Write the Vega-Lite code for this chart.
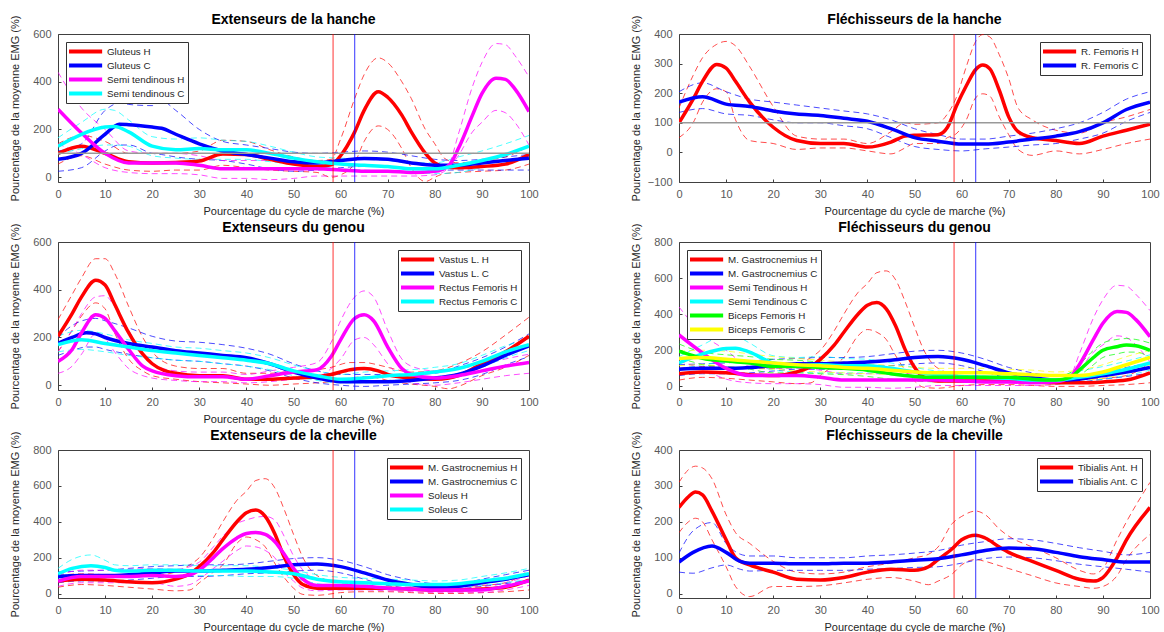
{
"$schema":"https://vega.github.io/schema/vega-lite/v6.json",
"background":"white",
"padding":{"left":8,"top":12,"right":5,"bottom":0},
"bounds":"flush",
"columns":2,
"spacing":{"row":60,"column":150},
"resolve":{"scale":{"x":"independent","y":"independent","color":"independent"}},
"datasets":{
"p1":[
{"s":"Gluteus H","x":0,"m":100,"u":140,"l":55},{"s":"Gluteus H","x":5,"m":130,"u":175,"l":90},{"s":"Gluteus H","x":10,"m":100,"u":150,"l":55},{"s":"Gluteus H","x":15,"m":65,"u":100,"l":30},{"s":"Gluteus H","x":20,"m":60,"u":100,"l":25},{"s":"Gluteus H","x":25,"m":62,"u":100,"l":30},{"s":"Gluteus H","x":30,"m":68,"u":110,"l":30},{"s":"Gluteus H","x":35,"m":97,"u":155,"l":50},{"s":"Gluteus H","x":40,"m":95,"u":150,"l":40},{"s":"Gluteus H","x":45,"m":75,"u":115,"l":30},{"s":"Gluteus H","x":50,"m":55,"u":85,"l":25},{"s":"Gluteus H","x":55,"m":45,"u":70,"l":20},{"s":"Gluteus H","x":58,"m":52,"u":75,"l":0},{"s":"Gluteus H","x":60,"m":90,"u":160,"l":10},{"s":"Gluteus H","x":63,"m":190,"u":330,"l":60},{"s":"Gluteus H","x":65,"m":280,"u":430,"l":150},{"s":"Gluteus H","x":68,"m":358,"u":500,"l":215},{"s":"Gluteus H","x":70,"m":335,"u":480,"l":200},{"s":"Gluteus H","x":73,"m":260,"u":400,"l":120},{"s":"Gluteus H","x":75,"m":190,"u":330,"l":40},{"s":"Gluteus H","x":78,"m":100,"u":200,"l":-18},{"s":"Gluteus H","x":80,"m":60,"u":140,"l":0},{"s":"Gluteus H","x":82,"m":45,"u":80,"l":15},{"s":"Gluteus H","x":85,"m":40,"u":60,"l":20},{"s":"Gluteus H","x":90,"m":45,"u":70,"l":25},{"s":"Gluteus H","x":95,"m":55,"u":85,"l":30},{"s":"Gluteus H","x":100,"m":95,"u":130,"l":55},
{"s":"Gluteus C","x":0,"m":75,"u":110,"l":25},{"s":"Gluteus C","x":5,"m":100,"u":140,"l":40},{"s":"Gluteus C","x":10,"m":180,"u":280,"l":110},{"s":"Gluteus C","x":13,"m":222,"u":310,"l":135},{"s":"Gluteus C","x":15,"m":220,"u":305,"l":135},{"s":"Gluteus C","x":20,"m":210,"u":300,"l":100},{"s":"Gluteus C","x":22,"m":205,"u":320,"l":95},{"s":"Gluteus C","x":25,"m":180,"u":280,"l":85},{"s":"Gluteus C","x":30,"m":140,"u":200,"l":75},{"s":"Gluteus C","x":35,"m":110,"u":150,"l":70},{"s":"Gluteus C","x":40,"m":95,"u":135,"l":55},{"s":"Gluteus C","x":45,"m":80,"u":120,"l":35},{"s":"Gluteus C","x":50,"m":65,"u":105,"l":25},{"s":"Gluteus C","x":55,"m":60,"u":100,"l":30},{"s":"Gluteus C","x":60,"m":70,"u":105,"l":40},{"s":"Gluteus C","x":65,"m":78,"u":110,"l":45},{"s":"Gluteus C","x":70,"m":75,"u":105,"l":45},{"s":"Gluteus C","x":75,"m":60,"u":90,"l":35},{"s":"Gluteus C","x":80,"m":50,"u":75,"l":30},{"s":"Gluteus C","x":85,"m":50,"u":70,"l":30},{"s":"Gluteus C","x":90,"m":60,"u":75,"l":30},{"s":"Gluteus C","x":95,"m":70,"u":85,"l":30},{"s":"Gluteus C","x":100,"m":80,"u":95,"l":30},
{"s":"Semi tendinous H","x":0,"m":285,"u":440,"l":140},{"s":"Semi tendinous H","x":5,"m":185,"u":290,"l":95},{"s":"Semi tendinous H","x":10,"m":100,"u":200,"l":40},{"s":"Semi tendinous H","x":15,"m":60,"u":110,"l":20},{"s":"Semi tendinous H","x":20,"m":60,"u":100,"l":15},{"s":"Semi tendinous H","x":25,"m":60,"u":100,"l":15},{"s":"Semi tendinous H","x":30,"m":50,"u":90,"l":10},{"s":"Semi tendinous H","x":35,"m":35,"u":70,"l":-5},{"s":"Semi tendinous H","x":40,"m":35,"u":70,"l":-5},{"s":"Semi tendinous H","x":45,"m":35,"u":70,"l":-10},{"s":"Semi tendinous H","x":50,"m":35,"u":70,"l":-5},{"s":"Semi tendinous H","x":55,"m":35,"u":65,"l":5},{"s":"Semi tendinous H","x":60,"m":30,"u":55,"l":5},{"s":"Semi tendinous H","x":65,"m":25,"u":50,"l":5},{"s":"Semi tendinous H","x":70,"m":25,"u":45,"l":5},{"s":"Semi tendinous H","x":75,"m":20,"u":40,"l":5},{"s":"Semi tendinous H","x":80,"m":25,"u":40,"l":10},{"s":"Semi tendinous H","x":83,"m":50,"u":60,"l":40},{"s":"Semi tendinous H","x":85,"m":120,"u":180,"l":90},{"s":"Semi tendinous H","x":88,"m":260,"u":380,"l":190},{"s":"Semi tendinous H","x":90,"m":350,"u":480,"l":230},{"s":"Semi tendinous H","x":93,"m":415,"u":560,"l":280},{"s":"Semi tendinous H","x":95,"m":410,"u":555,"l":270},{"s":"Semi tendinous H","x":97,"m":370,"u":510,"l":230},{"s":"Semi tendinous H","x":100,"m":275,"u":420,"l":135},
{"s":"Semi tendinous C","x":0,"m":130,"u":165,"l":95},{"s":"Semi tendinous C","x":5,"m":180,"u":230,"l":120},{"s":"Semi tendinous C","x":10,"m":210,"u":285,"l":135},{"s":"Semi tendinous C","x":12,"m":212,"u":280,"l":135},{"s":"Semi tendinous C","x":15,"m":190,"u":240,"l":130},{"s":"Semi tendinous C","x":20,"m":130,"u":170,"l":90},{"s":"Semi tendinous C","x":25,"m":115,"u":160,"l":80},{"s":"Semi tendinous C","x":30,"m":120,"u":165,"l":75},{"s":"Semi tendinous C","x":35,"m":115,"u":155,"l":75},{"s":"Semi tendinous C","x":40,"m":115,"u":150,"l":75},{"s":"Semi tendinous C","x":45,"m":100,"u":130,"l":65},{"s":"Semi tendinous C","x":50,"m":80,"u":105,"l":55},{"s":"Semi tendinous C","x":55,"m":65,"u":85,"l":45},{"s":"Semi tendinous C","x":60,"m":55,"u":80,"l":35},{"s":"Semi tendinous C","x":65,"m":50,"u":75,"l":30},{"s":"Semi tendinous C","x":70,"m":45,"u":70,"l":25},{"s":"Semi tendinous C","x":75,"m":35,"u":60,"l":20},{"s":"Semi tendinous C","x":80,"m":35,"u":60,"l":15},{"s":"Semi tendinous C","x":85,"m":50,"u":85,"l":20},{"s":"Semi tendinous C","x":90,"m":70,"u":110,"l":40},{"s":"Semi tendinous C","x":95,"m":95,"u":140,"l":60},{"s":"Semi tendinous C","x":100,"m":130,"u":175,"l":90}
],
"p2":[
{"s":"R. Femoris H","x":0,"m":100,"u":150,"l":50},{"s":"R. Femoris H","x":3,"m":180,"u":260,"l":100},{"s":"R. Femoris H","x":5,"m":240,"u":320,"l":170},{"s":"R. Femoris H","x":8,"m":297,"u":365,"l":215},{"s":"R. Femoris H","x":10,"m":285,"u":375,"l":205},{"s":"R. Femoris H","x":12,"m":240,"u":360,"l":110},{"s":"R. Femoris H","x":15,"m":170,"u":290,"l":40},{"s":"R. Femoris H","x":20,"m":85,"u":155,"l":30},{"s":"R. Femoris H","x":25,"m":40,"u":55,"l":10},{"s":"R. Femoris H","x":30,"m":30,"u":45,"l":15},{"s":"R. Femoris H","x":35,"m":30,"u":45,"l":15},{"s":"R. Femoris H","x":40,"m":18,"u":30,"l":5},{"s":"R. Femoris H","x":45,"m":35,"u":70,"l":-5},{"s":"R. Femoris H","x":48,"m":55,"u":100,"l":15},{"s":"R. Femoris H","x":50,"m":58,"u":95,"l":30},{"s":"R. Femoris H","x":55,"m":60,"u":100,"l":30},{"s":"R. Femoris H","x":57,"m":85,"u":130,"l":50},{"s":"R. Femoris H","x":59,"m":160,"u":190,"l":65},{"s":"R. Femoris H","x":61,"m":225,"u":290,"l":110},{"s":"R. Femoris H","x":63,"m":280,"u":375,"l":185},{"s":"R. Femoris H","x":64.5,"m":295,"u":398,"l":198},{"s":"R. Femoris H","x":66,"m":282,"u":390,"l":190},{"s":"R. Femoris H","x":68,"m":210,"u":330,"l":120},{"s":"R. Femoris H","x":70,"m":120,"u":250,"l":60},{"s":"R. Femoris H","x":72,"m":70,"u":150,"l":10},{"s":"R. Femoris H","x":75,"m":50,"u":110,"l":-10},{"s":"R. Femoris H","x":80,"m":40,"u":75,"l":5},{"s":"R. Femoris H","x":85,"m":30,"u":65,"l":-5},{"s":"R. Femoris H","x":90,"m":55,"u":100,"l":10},{"s":"R. Femoris H","x":95,"m":75,"u":120,"l":30},{"s":"R. Femoris H","x":100,"m":95,"u":145,"l":45},
{"s":"R. Femoris C","x":0,"m":170,"u":205,"l":135},{"s":"R. Femoris C","x":5,"m":188,"u":235,"l":148},{"s":"R. Femoris C","x":10,"m":163,"u":205,"l":130},{"s":"R. Femoris C","x":15,"m":155,"u":180,"l":125},{"s":"R. Femoris C","x":20,"m":140,"u":170,"l":110},{"s":"R. Femoris C","x":25,"m":130,"u":160,"l":100},{"s":"R. Femoris C","x":30,"m":125,"u":150,"l":100},{"s":"R. Femoris C","x":35,"m":115,"u":140,"l":90},{"s":"R. Femoris C","x":40,"m":105,"u":130,"l":80},{"s":"R. Femoris C","x":45,"m":80,"u":110,"l":50},{"s":"R. Femoris C","x":50,"m":50,"u":80,"l":20},{"s":"R. Femoris C","x":55,"m":38,"u":60,"l":10},{"s":"R. Femoris C","x":60,"m":28,"u":45,"l":5},{"s":"R. Femoris C","x":65,"m":28,"u":45,"l":12},{"s":"R. Femoris C","x":70,"m":35,"u":55,"l":18},{"s":"R. Femoris C","x":75,"m":45,"u":65,"l":25},{"s":"R. Femoris C","x":80,"m":55,"u":80,"l":30},{"s":"R. Femoris C","x":85,"m":70,"u":100,"l":45},{"s":"R. Femoris C","x":90,"m":100,"u":135,"l":65},{"s":"R. Femoris C","x":95,"m":145,"u":180,"l":105},{"s":"R. Femoris C","x":100,"m":170,"u":205,"l":135}
],
"p3":[
{"s":"Vastus L. H","x":0,"m":205,"u":275,"l":140},{"s":"Vastus L. H","x":3,"m":300,"u":380,"l":230},{"s":"Vastus L. H","x":5,"m":370,"u":450,"l":290},{"s":"Vastus L. H","x":8,"m":440,"u":530,"l":345},{"s":"Vastus L. H","x":10,"m":420,"u":530,"l":320},{"s":"Vastus L. H","x":12,"m":340,"u":470,"l":220},{"s":"Vastus L. H","x":15,"m":220,"u":330,"l":110},{"s":"Vastus L. H","x":18,"m":130,"u":200,"l":60},{"s":"Vastus L. H","x":20,"m":90,"u":140,"l":40},{"s":"Vastus L. H","x":25,"m":50,"u":80,"l":25},{"s":"Vastus L. H","x":30,"m":40,"u":70,"l":15},{"s":"Vastus L. H","x":35,"m":40,"u":70,"l":10},{"s":"Vastus L. H","x":40,"m":25,"u":50,"l":5},{"s":"Vastus L. H","x":45,"m":25,"u":50,"l":0},{"s":"Vastus L. H","x":50,"m":30,"u":60,"l":5},{"s":"Vastus L. H","x":55,"m":35,"u":65,"l":10},{"s":"Vastus L. H","x":58,"m":45,"u":75,"l":15},{"s":"Vastus L. H","x":62,"m":65,"u":95,"l":30},{"s":"Vastus L. H","x":65,"m":70,"u":95,"l":35},{"s":"Vastus L. H","x":68,"m":60,"u":85,"l":30},{"s":"Vastus L. H","x":70,"m":45,"u":75,"l":20},{"s":"Vastus L. H","x":75,"m":30,"u":55,"l":5},{"s":"Vastus L. H","x":80,"m":25,"u":60,"l":-5},{"s":"Vastus L. H","x":83,"m":30,"u":75,"l":-15},{"s":"Vastus L. H","x":85,"m":40,"u":90,"l":-5},{"s":"Vastus L. H","x":90,"m":90,"u":140,"l":40},{"s":"Vastus L. H","x":95,"m":140,"u":210,"l":75},{"s":"Vastus L. H","x":100,"m":205,"u":285,"l":125},
{"s":"Vastus L. C","x":0,"m":175,"u":200,"l":125},{"s":"Vastus L. C","x":3,"m":200,"u":250,"l":145},{"s":"Vastus L. C","x":6,"m":220,"u":275,"l":160},{"s":"Vastus L. C","x":8,"m":215,"u":280,"l":160},{"s":"Vastus L. C","x":10,"m":200,"u":270,"l":150},{"s":"Vastus L. C","x":15,"m":175,"u":240,"l":130},{"s":"Vastus L. C","x":20,"m":160,"u":205,"l":115},{"s":"Vastus L. C","x":25,"m":145,"u":185,"l":105},{"s":"Vastus L. C","x":30,"m":135,"u":180,"l":100},{"s":"Vastus L. C","x":35,"m":125,"u":170,"l":90},{"s":"Vastus L. C","x":40,"m":115,"u":155,"l":80},{"s":"Vastus L. C","x":45,"m":90,"u":130,"l":60},{"s":"Vastus L. C","x":50,"m":55,"u":90,"l":30},{"s":"Vastus L. C","x":55,"m":30,"u":60,"l":10},{"s":"Vastus L. C","x":60,"m":15,"u":45,"l":0},{"s":"Vastus L. C","x":65,"m":15,"u":45,"l":-5},{"s":"Vastus L. C","x":70,"m":15,"u":45,"l":0},{"s":"Vastus L. C","x":75,"m":20,"u":45,"l":5},{"s":"Vastus L. C","x":80,"m":30,"u":50,"l":10},{"s":"Vastus L. C","x":85,"m":45,"u":80,"l":20},{"s":"Vastus L. C","x":90,"m":80,"u":115,"l":45},{"s":"Vastus L. C","x":95,"m":125,"u":160,"l":85},{"s":"Vastus L. C","x":100,"m":165,"u":215,"l":120},
{"s":"Rectus Femoris H","x":0,"m":100,"u":140,"l":50},{"s":"Rectus Femoris H","x":3,"m":150,"u":230,"l":80},{"s":"Rectus Femoris H","x":5,"m":220,"u":300,"l":130},{"s":"Rectus Femoris H","x":8,"m":295,"u":370,"l":215},{"s":"Rectus Femoris H","x":10,"m":280,"u":375,"l":195},{"s":"Rectus Femoris H","x":12,"m":230,"u":330,"l":140},{"s":"Rectus Femoris H","x":15,"m":150,"u":230,"l":70},{"s":"Rectus Femoris H","x":18,"m":80,"u":130,"l":40},{"s":"Rectus Femoris H","x":20,"m":60,"u":90,"l":30},{"s":"Rectus Femoris H","x":25,"m":40,"u":60,"l":20},{"s":"Rectus Femoris H","x":30,"m":35,"u":55,"l":15},{"s":"Rectus Femoris H","x":35,"m":35,"u":55,"l":15},{"s":"Rectus Femoris H","x":40,"m":25,"u":45,"l":10},{"s":"Rectus Femoris H","x":45,"m":40,"u":60,"l":15},{"s":"Rectus Femoris H","x":50,"m":55,"u":75,"l":25},{"s":"Rectus Femoris H","x":55,"m":65,"u":95,"l":35},{"s":"Rectus Femoris H","x":58,"m":120,"u":180,"l":70},{"s":"Rectus Femoris H","x":60,"m":190,"u":270,"l":110},{"s":"Rectus Femoris H","x":63,"m":280,"u":370,"l":190},{"s":"Rectus Femoris H","x":65,"m":295,"u":395,"l":200},{"s":"Rectus Femoris H","x":67,"m":270,"u":370,"l":170},{"s":"Rectus Femoris H","x":70,"m":160,"u":230,"l":90},{"s":"Rectus Femoris H","x":73,"m":70,"u":110,"l":30},{"s":"Rectus Femoris H","x":75,"m":45,"u":80,"l":10},{"s":"Rectus Femoris H","x":80,"m":30,"u":60,"l":0},{"s":"Rectus Femoris H","x":85,"m":40,"u":70,"l":10},{"s":"Rectus Femoris H","x":90,"m":60,"u":85,"l":25},{"s":"Rectus Femoris H","x":95,"m":80,"u":110,"l":40},{"s":"Rectus Femoris H","x":100,"m":95,"u":130,"l":50},
{"s":"Rectus Femoris C","x":0,"m":170,"u":205,"l":140},{"s":"Rectus Femoris C","x":5,"m":190,"u":230,"l":150},{"s":"Rectus Femoris C","x":10,"m":175,"u":215,"l":140},{"s":"Rectus Femoris C","x":15,"m":160,"u":190,"l":125},{"s":"Rectus Femoris C","x":20,"m":145,"u":175,"l":115},{"s":"Rectus Femoris C","x":25,"m":135,"u":160,"l":105},{"s":"Rectus Femoris C","x":30,"m":125,"u":155,"l":100},{"s":"Rectus Femoris C","x":35,"m":115,"u":145,"l":90},{"s":"Rectus Femoris C","x":40,"m":105,"u":135,"l":80},{"s":"Rectus Femoris C","x":45,"m":90,"u":115,"l":65},{"s":"Rectus Femoris C","x":50,"m":60,"u":85,"l":40},{"s":"Rectus Femoris C","x":55,"m":40,"u":60,"l":20},{"s":"Rectus Femoris C","x":60,"m":25,"u":45,"l":10},{"s":"Rectus Femoris C","x":65,"m":30,"u":55,"l":10},{"s":"Rectus Femoris C","x":70,"m":40,"u":60,"l":20},{"s":"Rectus Femoris C","x":75,"m":45,"u":65,"l":25},{"s":"Rectus Femoris C","x":80,"m":55,"u":75,"l":35},{"s":"Rectus Femoris C","x":85,"m":70,"u":90,"l":50},{"s":"Rectus Femoris C","x":90,"m":100,"u":125,"l":75},{"s":"Rectus Femoris C","x":95,"m":140,"u":165,"l":115},{"s":"Rectus Femoris C","x":100,"m":170,"u":195,"l":145}
],
"p4":[
{"s":"M. Gastrocnemius H","x":0,"m":70,"u":100,"l":35},{"s":"M. Gastrocnemius H","x":5,"m":80,"u":110,"l":50},{"s":"M. Gastrocnemius H","x":10,"m":75,"u":105,"l":45},{"s":"M. Gastrocnemius H","x":15,"m":65,"u":100,"l":35},{"s":"M. Gastrocnemius H","x":20,"m":60,"u":100,"l":25},{"s":"M. Gastrocnemius H","x":25,"m":80,"u":120,"l":15},{"s":"M. Gastrocnemius H","x":28,"m":110,"u":160,"l":20},{"s":"M. Gastrocnemius H","x":30,"m":150,"u":200,"l":60},{"s":"M. Gastrocnemius H","x":33,"m":230,"u":310,"l":120},{"s":"M. Gastrocnemius H","x":35,"m":300,"u":400,"l":160},{"s":"M. Gastrocnemius H","x":38,"m":400,"u":520,"l":280},{"s":"M. Gastrocnemius H","x":40,"m":450,"u":570,"l":315},{"s":"M. Gastrocnemius H","x":42,"m":465,"u":630,"l":300},{"s":"M. Gastrocnemius H","x":44,"m":430,"u":640,"l":260},{"s":"M. Gastrocnemius H","x":46,"m":335,"u":590,"l":170},{"s":"M. Gastrocnemius H","x":48,"m":205,"u":470,"l":90},{"s":"M. Gastrocnemius H","x":50,"m":106,"u":330,"l":30},{"s":"M. Gastrocnemius H","x":52,"m":50,"u":200,"l":-5},{"s":"M. Gastrocnemius H","x":55,"m":30,"u":100,"l":-10},{"s":"M. Gastrocnemius H","x":60,"m":30,"u":60,"l":5},{"s":"M. Gastrocnemius H","x":65,"m":30,"u":55,"l":10},{"s":"M. Gastrocnemius H","x":70,"m":30,"u":50,"l":10},{"s":"M. Gastrocnemius H","x":75,"m":25,"u":45,"l":5},{"s":"M. Gastrocnemius H","x":80,"m":20,"u":40,"l":0},{"s":"M. Gastrocnemius H","x":85,"m":20,"u":40,"l":0},{"s":"M. Gastrocnemius H","x":90,"m":25,"u":45,"l":5},{"s":"M. Gastrocnemius H","x":95,"m":35,"u":60,"l":10},{"s":"M. Gastrocnemius H","x":100,"m":75,"u":130,"l":20},
{"s":"M. Gastrocnemius C","x":0,"m":95,"u":120,"l":60},{"s":"M. Gastrocnemius C","x":5,"m":100,"u":125,"l":70},{"s":"M. Gastrocnemius C","x":10,"m":100,"u":130,"l":70},{"s":"M. Gastrocnemius C","x":15,"m":105,"u":140,"l":75},{"s":"M. Gastrocnemius C","x":20,"m":115,"u":150,"l":85},{"s":"M. Gastrocnemius C","x":25,"m":125,"u":155,"l":95},{"s":"M. Gastrocnemius C","x":30,"m":125,"u":160,"l":95},{"s":"M. Gastrocnemius C","x":35,"m":130,"u":160,"l":100},{"s":"M. Gastrocnemius C","x":40,"m":135,"u":165,"l":110},{"s":"M. Gastrocnemius C","x":45,"m":145,"u":180,"l":115},{"s":"M. Gastrocnemius C","x":50,"m":160,"u":195,"l":125},{"s":"M. Gastrocnemius C","x":55,"m":165,"u":200,"l":130},{"s":"M. Gastrocnemius C","x":60,"m":150,"u":185,"l":115},{"s":"M. Gastrocnemius C","x":65,"m":115,"u":150,"l":80},{"s":"M. Gastrocnemius C","x":70,"m":75,"u":105,"l":45},{"s":"M. Gastrocnemius C","x":75,"m":50,"u":75,"l":30},{"s":"M. Gastrocnemius C","x":80,"m":35,"u":55,"l":20},{"s":"M. Gastrocnemius C","x":85,"m":40,"u":55,"l":25},{"s":"M. Gastrocnemius C","x":90,"m":60,"u":80,"l":40},{"s":"M. Gastrocnemius C","x":95,"m":80,"u":105,"l":55},{"s":"M. Gastrocnemius C","x":100,"m":105,"u":130,"l":75},
{"s":"Semi Tendinous H","x":0,"m":285,"u":440,"l":140},{"s":"Semi Tendinous H","x":5,"m":185,"u":290,"l":95},{"s":"Semi Tendinous H","x":10,"m":100,"u":200,"l":40},{"s":"Semi Tendinous H","x":15,"m":60,"u":110,"l":20},{"s":"Semi Tendinous H","x":20,"m":60,"u":100,"l":15},{"s":"Semi Tendinous H","x":25,"m":60,"u":100,"l":15},{"s":"Semi Tendinous H","x":30,"m":50,"u":90,"l":10},{"s":"Semi Tendinous H","x":35,"m":35,"u":70,"l":-5},{"s":"Semi Tendinous H","x":40,"m":35,"u":70,"l":-5},{"s":"Semi Tendinous H","x":45,"m":35,"u":70,"l":-10},{"s":"Semi Tendinous H","x":50,"m":35,"u":70,"l":-5},{"s":"Semi Tendinous H","x":55,"m":35,"u":65,"l":5},{"s":"Semi Tendinous H","x":60,"m":30,"u":55,"l":5},{"s":"Semi Tendinous H","x":65,"m":25,"u":50,"l":5},{"s":"Semi Tendinous H","x":70,"m":25,"u":45,"l":5},{"s":"Semi Tendinous H","x":75,"m":20,"u":40,"l":5},{"s":"Semi Tendinous H","x":80,"m":25,"u":40,"l":10},{"s":"Semi Tendinous H","x":83,"m":50,"u":60,"l":40},{"s":"Semi Tendinous H","x":85,"m":120,"u":180,"l":90},{"s":"Semi Tendinous H","x":88,"m":260,"u":380,"l":190},{"s":"Semi Tendinous H","x":90,"m":350,"u":480,"l":230},{"s":"Semi Tendinous H","x":93,"m":415,"u":560,"l":280},{"s":"Semi Tendinous H","x":95,"m":410,"u":555,"l":270},{"s":"Semi Tendinous H","x":97,"m":370,"u":510,"l":230},{"s":"Semi Tendinous H","x":100,"m":275,"u":420,"l":135},
{"s":"Semi Tendinous C","x":0,"m":130,"u":165,"l":95},{"s":"Semi Tendinous C","x":5,"m":180,"u":230,"l":120},{"s":"Semi Tendinous C","x":10,"m":210,"u":285,"l":135},{"s":"Semi Tendinous C","x":12,"m":212,"u":280,"l":135},{"s":"Semi Tendinous C","x":15,"m":190,"u":240,"l":130},{"s":"Semi Tendinous C","x":20,"m":130,"u":170,"l":90},{"s":"Semi Tendinous C","x":25,"m":115,"u":160,"l":80},{"s":"Semi Tendinous C","x":30,"m":120,"u":165,"l":75},{"s":"Semi Tendinous C","x":35,"m":115,"u":155,"l":75},{"s":"Semi Tendinous C","x":40,"m":115,"u":150,"l":75},{"s":"Semi Tendinous C","x":45,"m":100,"u":130,"l":65},{"s":"Semi Tendinous C","x":50,"m":80,"u":105,"l":55},{"s":"Semi Tendinous C","x":55,"m":65,"u":85,"l":45},{"s":"Semi Tendinous C","x":60,"m":55,"u":80,"l":35},{"s":"Semi Tendinous C","x":65,"m":50,"u":75,"l":30},{"s":"Semi Tendinous C","x":70,"m":45,"u":70,"l":25},{"s":"Semi Tendinous C","x":75,"m":35,"u":60,"l":20},{"s":"Semi Tendinous C","x":80,"m":35,"u":60,"l":15},{"s":"Semi Tendinous C","x":85,"m":50,"u":85,"l":20},{"s":"Semi Tendinous C","x":90,"m":70,"u":110,"l":40},{"s":"Semi Tendinous C","x":95,"m":95,"u":140,"l":60},{"s":"Semi Tendinous C","x":100,"m":130,"u":175,"l":90},
{"s":"Biceps Femoris H","x":0,"m":195,"u":235,"l":155},{"s":"Biceps Femoris H","x":3,"m":170,"u":205,"l":135},{"s":"Biceps Femoris H","x":5,"m":155,"u":190,"l":120},{"s":"Biceps Femoris H","x":10,"m":140,"u":175,"l":110},{"s":"Biceps Femoris H","x":15,"m":130,"u":165,"l":95},{"s":"Biceps Femoris H","x":20,"m":110,"u":150,"l":75},{"s":"Biceps Femoris H","x":25,"m":110,"u":145,"l":75},{"s":"Biceps Femoris H","x":30,"m":105,"u":135,"l":70},{"s":"Biceps Femoris H","x":35,"m":100,"u":130,"l":65},{"s":"Biceps Femoris H","x":40,"m":90,"u":120,"l":55},{"s":"Biceps Femoris H","x":45,"m":70,"u":100,"l":40},{"s":"Biceps Femoris H","x":50,"m":55,"u":80,"l":30},{"s":"Biceps Femoris H","x":55,"m":50,"u":75,"l":25},{"s":"Biceps Femoris H","x":60,"m":50,"u":75,"l":25},{"s":"Biceps Femoris H","x":65,"m":50,"u":75,"l":25},{"s":"Biceps Femoris H","x":70,"m":50,"u":70,"l":25},{"s":"Biceps Femoris H","x":75,"m":40,"u":60,"l":20},{"s":"Biceps Femoris H","x":80,"m":35,"u":55,"l":15},{"s":"Biceps Femoris H","x":83,"m":50,"u":75,"l":30},{"s":"Biceps Femoris H","x":85,"m":90,"u":120,"l":60},{"s":"Biceps Femoris H","x":88,"m":160,"u":200,"l":120},{"s":"Biceps Femoris H","x":90,"m":200,"u":240,"l":160},{"s":"Biceps Femoris H","x":93,"m":220,"u":260,"l":180},{"s":"Biceps Femoris H","x":95,"m":230,"u":265,"l":190},{"s":"Biceps Femoris H","x":97,"m":225,"u":260,"l":190},{"s":"Biceps Femoris H","x":100,"m":200,"u":240,"l":160},
{"s":"Biceps Femoris C","x":0,"m":155,"u":195,"l":115},{"s":"Biceps Femoris C","x":5,"m":160,"u":200,"l":120},{"s":"Biceps Femoris C","x":10,"m":150,"u":195,"l":110},{"s":"Biceps Femoris C","x":15,"m":140,"u":180,"l":100},{"s":"Biceps Femoris C","x":20,"m":130,"u":165,"l":95},{"s":"Biceps Femoris C","x":25,"m":120,"u":155,"l":85},{"s":"Biceps Femoris C","x":30,"m":115,"u":145,"l":80},{"s":"Biceps Femoris C","x":35,"m":105,"u":135,"l":75},{"s":"Biceps Femoris C","x":40,"m":100,"u":125,"l":70},{"s":"Biceps Femoris C","x":45,"m":90,"u":115,"l":65},{"s":"Biceps Femoris C","x":50,"m":80,"u":105,"l":55},{"s":"Biceps Femoris C","x":55,"m":75,"u":100,"l":50},{"s":"Biceps Femoris C","x":60,"m":75,"u":100,"l":50},{"s":"Biceps Femoris C","x":65,"m":75,"u":100,"l":50},{"s":"Biceps Femoris C","x":70,"m":70,"u":95,"l":45},{"s":"Biceps Femoris C","x":75,"m":65,"u":90,"l":40},{"s":"Biceps Femoris C","x":80,"m":60,"u":80,"l":40},{"s":"Biceps Femoris C","x":85,"m":60,"u":90,"l":35},{"s":"Biceps Femoris C","x":90,"m":80,"u":120,"l":45},{"s":"Biceps Femoris C","x":95,"m":120,"u":165,"l":75},{"s":"Biceps Femoris C","x":100,"m":160,"u":200,"l":120}
],
"p5":[
{"s":"M. Gastrocnemius H","x":0,"m":70,"u":100,"l":35},{"s":"M. Gastrocnemius H","x":5,"m":80,"u":110,"l":50},{"s":"M. Gastrocnemius H","x":10,"m":75,"u":105,"l":45},{"s":"M. Gastrocnemius H","x":15,"m":65,"u":100,"l":35},{"s":"M. Gastrocnemius H","x":20,"m":60,"u":100,"l":25},{"s":"M. Gastrocnemius H","x":25,"m":80,"u":120,"l":15},{"s":"M. Gastrocnemius H","x":28,"m":110,"u":160,"l":20},{"s":"M. Gastrocnemius H","x":30,"m":150,"u":200,"l":60},{"s":"M. Gastrocnemius H","x":33,"m":230,"u":310,"l":120},{"s":"M. Gastrocnemius H","x":35,"m":300,"u":400,"l":160},{"s":"M. Gastrocnemius H","x":38,"m":400,"u":520,"l":280},{"s":"M. Gastrocnemius H","x":40,"m":450,"u":570,"l":315},{"s":"M. Gastrocnemius H","x":42,"m":465,"u":630,"l":300},{"s":"M. Gastrocnemius H","x":44,"m":430,"u":640,"l":260},{"s":"M. Gastrocnemius H","x":46,"m":335,"u":590,"l":170},{"s":"M. Gastrocnemius H","x":48,"m":205,"u":470,"l":90},{"s":"M. Gastrocnemius H","x":50,"m":106,"u":330,"l":30},{"s":"M. Gastrocnemius H","x":52,"m":50,"u":200,"l":-5},{"s":"M. Gastrocnemius H","x":55,"m":30,"u":100,"l":-10},{"s":"M. Gastrocnemius H","x":60,"m":30,"u":60,"l":5},{"s":"M. Gastrocnemius H","x":65,"m":30,"u":55,"l":10},{"s":"M. Gastrocnemius H","x":70,"m":30,"u":50,"l":10},{"s":"M. Gastrocnemius H","x":75,"m":25,"u":45,"l":5},{"s":"M. Gastrocnemius H","x":80,"m":20,"u":40,"l":0},{"s":"M. Gastrocnemius H","x":85,"m":20,"u":40,"l":0},{"s":"M. Gastrocnemius H","x":90,"m":25,"u":45,"l":5},{"s":"M. Gastrocnemius H","x":95,"m":35,"u":60,"l":10},{"s":"M. Gastrocnemius H","x":100,"m":75,"u":130,"l":20},
{"s":"M. Gastrocnemius C","x":0,"m":95,"u":120,"l":60},{"s":"M. Gastrocnemius C","x":5,"m":100,"u":125,"l":70},{"s":"M. Gastrocnemius C","x":10,"m":100,"u":130,"l":70},{"s":"M. Gastrocnemius C","x":15,"m":105,"u":140,"l":75},{"s":"M. Gastrocnemius C","x":20,"m":115,"u":150,"l":85},{"s":"M. Gastrocnemius C","x":25,"m":125,"u":155,"l":95},{"s":"M. Gastrocnemius C","x":30,"m":125,"u":160,"l":95},{"s":"M. Gastrocnemius C","x":35,"m":130,"u":160,"l":100},{"s":"M. Gastrocnemius C","x":40,"m":135,"u":165,"l":110},{"s":"M. Gastrocnemius C","x":45,"m":145,"u":180,"l":115},{"s":"M. Gastrocnemius C","x":50,"m":160,"u":195,"l":125},{"s":"M. Gastrocnemius C","x":55,"m":165,"u":200,"l":130},{"s":"M. Gastrocnemius C","x":60,"m":150,"u":185,"l":115},{"s":"M. Gastrocnemius C","x":65,"m":115,"u":150,"l":80},{"s":"M. Gastrocnemius C","x":70,"m":75,"u":105,"l":45},{"s":"M. Gastrocnemius C","x":75,"m":50,"u":75,"l":30},{"s":"M. Gastrocnemius C","x":80,"m":35,"u":55,"l":20},{"s":"M. Gastrocnemius C","x":85,"m":40,"u":55,"l":25},{"s":"M. Gastrocnemius C","x":90,"m":60,"u":80,"l":40},{"s":"M. Gastrocnemius C","x":95,"m":80,"u":105,"l":55},{"s":"M. Gastrocnemius C","x":100,"m":105,"u":130,"l":75},
{"s":"Soleus H","x":0,"m":70,"u":100,"l":40},{"s":"Soleus H","x":5,"m":95,"u":130,"l":60},{"s":"Soleus H","x":10,"m":95,"u":130,"l":60},{"s":"Soleus H","x":15,"m":95,"u":135,"l":60},{"s":"Soleus H","x":20,"m":100,"u":140,"l":60},{"s":"Soleus H","x":25,"m":95,"u":135,"l":40},{"s":"Soleus H","x":28,"m":105,"u":150,"l":50},{"s":"Soleus H","x":30,"m":130,"u":175,"l":80},{"s":"Soleus H","x":33,"m":200,"u":260,"l":140},{"s":"Soleus H","x":35,"m":250,"u":320,"l":180},{"s":"Soleus H","x":38,"m":310,"u":390,"l":240},{"s":"Soleus H","x":40,"m":335,"u":410,"l":265},{"s":"Soleus H","x":42,"m":340,"u":425,"l":260},{"s":"Soleus H","x":44,"m":330,"u":430,"l":240},{"s":"Soleus H","x":46,"m":290,"u":410,"l":200},{"s":"Soleus H","x":48,"m":220,"u":320,"l":120},{"s":"Soleus H","x":50,"m":140,"u":210,"l":70},{"s":"Soleus H","x":52,"m":80,"u":130,"l":30},{"s":"Soleus H","x":55,"m":45,"u":80,"l":15},{"s":"Soleus H","x":60,"m":45,"u":70,"l":20},{"s":"Soleus H","x":65,"m":40,"u":60,"l":20},{"s":"Soleus H","x":70,"m":30,"u":50,"l":15},{"s":"Soleus H","x":75,"m":25,"u":40,"l":10},{"s":"Soleus H","x":80,"m":20,"u":35,"l":5},{"s":"Soleus H","x":85,"m":20,"u":35,"l":5},{"s":"Soleus H","x":90,"m":20,"u":40,"l":5},{"s":"Soleus H","x":95,"m":40,"u":60,"l":20},{"s":"Soleus H","x":100,"m":70,"u":100,"l":45},
{"s":"Soleus C","x":0,"m":110,"u":140,"l":80},{"s":"Soleus C","x":3,"m":140,"u":190,"l":95},{"s":"Soleus C","x":7,"m":155,"u":215,"l":100},{"s":"Soleus C","x":10,"m":145,"u":185,"l":100},{"s":"Soleus C","x":12,"m":130,"u":160,"l":95},{"s":"Soleus C","x":15,"m":125,"u":155,"l":95},{"s":"Soleus C","x":20,"m":130,"u":160,"l":100},{"s":"Soleus C","x":25,"m":130,"u":160,"l":100},{"s":"Soleus C","x":30,"m":125,"u":155,"l":100},{"s":"Soleus C","x":35,"m":125,"u":155,"l":100},{"s":"Soleus C","x":40,"m":125,"u":155,"l":95},{"s":"Soleus C","x":45,"m":120,"u":145,"l":95},{"s":"Soleus C","x":50,"m":110,"u":130,"l":85},{"s":"Soleus C","x":55,"m":80,"u":105,"l":55},{"s":"Soleus C","x":60,"m":65,"u":90,"l":40},{"s":"Soleus C","x":65,"m":60,"u":85,"l":35},{"s":"Soleus C","x":70,"m":55,"u":80,"l":30},{"s":"Soleus C","x":75,"m":50,"u":75,"l":30},{"s":"Soleus C","x":80,"m":50,"u":70,"l":30},{"s":"Soleus C","x":85,"m":55,"u":75,"l":35},{"s":"Soleus C","x":90,"m":70,"u":95,"l":45},{"s":"Soleus C","x":95,"m":85,"u":115,"l":60},{"s":"Soleus C","x":100,"m":110,"u":140,"l":80}
],
"p6":[
{"s":"Tibialis Ant. H","x":0,"m":240,"u":310,"l":170},{"s":"Tibialis Ant. H","x":2,"m":270,"u":345,"l":200},{"s":"Tibialis Ant. H","x":3.5,"m":283,"u":355,"l":210},{"s":"Tibialis Ant. H","x":5,"m":275,"u":350,"l":200},{"s":"Tibialis Ant. H","x":7,"m":230,"u":320,"l":150},{"s":"Tibialis Ant. H","x":10,"m":150,"u":220,"l":75},{"s":"Tibialis Ant. H","x":12,"m":100,"u":170,"l":20},{"s":"Tibialis Ant. H","x":15,"m":80,"u":140,"l":-8},{"s":"Tibialis Ant. H","x":20,"m":60,"u":90,"l":20},{"s":"Tibialis Ant. H","x":25,"m":40,"u":60,"l":20},{"s":"Tibialis Ant. H","x":30,"m":38,"u":55,"l":22},{"s":"Tibialis Ant. H","x":35,"m":45,"u":60,"l":30},{"s":"Tibialis Ant. H","x":40,"m":60,"u":75,"l":40},{"s":"Tibialis Ant. H","x":45,"m":68,"u":85,"l":45},{"s":"Tibialis Ant. H","x":50,"m":65,"u":100,"l":35},{"s":"Tibialis Ant. H","x":53,"m":75,"u":110,"l":25},{"s":"Tibialis Ant. H","x":55,"m":95,"u":130,"l":35},{"s":"Tibialis Ant. H","x":58,"m":125,"u":195,"l":55},{"s":"Tibialis Ant. H","x":60,"m":150,"u":215,"l":80},{"s":"Tibialis Ant. H","x":63,"m":163,"u":230,"l":95},{"s":"Tibialis Ant. H","x":65,"m":155,"u":220,"l":90},{"s":"Tibialis Ant. H","x":68,"m":130,"u":180,"l":78},{"s":"Tibialis Ant. H","x":70,"m":115,"u":160,"l":70},{"s":"Tibialis Ant. H","x":75,"m":90,"u":130,"l":50},{"s":"Tibialis Ant. H","x":80,"m":65,"u":100,"l":30},{"s":"Tibialis Ant. H","x":85,"m":40,"u":65,"l":20},{"s":"Tibialis Ant. H","x":88,"m":35,"u":55,"l":15},{"s":"Tibialis Ant. H","x":90,"m":45,"u":70,"l":20},{"s":"Tibialis Ant. H","x":93,"m":100,"u":150,"l":50},{"s":"Tibialis Ant. H","x":95,"m":150,"u":200,"l":95},{"s":"Tibialis Ant. H","x":100,"m":240,"u":310,"l":165},
{"s":"Tibialis Ant. C","x":0,"m":88,"u":113,"l":60},{"s":"Tibialis Ant. C","x":3,"m":115,"u":175,"l":57},{"s":"Tibialis Ant. C","x":7,"m":133,"u":198,"l":72},{"s":"Tibialis Ant. C","x":10,"m":115,"u":140,"l":80},{"s":"Tibialis Ant. C","x":13,"m":90,"u":110,"l":68},{"s":"Tibialis Ant. C","x":15,"m":85,"u":105,"l":63},{"s":"Tibialis Ant. C","x":20,"m":85,"u":105,"l":65},{"s":"Tibialis Ant. C","x":25,"m":83,"u":100,"l":65},{"s":"Tibialis Ant. C","x":30,"m":83,"u":100,"l":65},{"s":"Tibialis Ant. C","x":35,"m":85,"u":100,"l":65},{"s":"Tibialis Ant. C","x":40,"m":85,"u":105,"l":68},{"s":"Tibialis Ant. C","x":45,"m":88,"u":108,"l":70},{"s":"Tibialis Ant. C","x":50,"m":93,"u":113,"l":73},{"s":"Tibialis Ant. C","x":55,"m":97,"u":120,"l":75},{"s":"Tibialis Ant. C","x":60,"m":108,"u":135,"l":85},{"s":"Tibialis Ant. C","x":65,"m":120,"u":145,"l":98},{"s":"Tibialis Ant. C","x":70,"m":127,"u":153,"l":102},{"s":"Tibialis Ant. C","x":75,"m":125,"u":150,"l":100},{"s":"Tibialis Ant. C","x":80,"m":115,"u":140,"l":92},{"s":"Tibialis Ant. C","x":85,"m":103,"u":128,"l":82},{"s":"Tibialis Ant. C","x":90,"m":95,"u":118,"l":75},{"s":"Tibialis Ant. C","x":95,"m":88,"u":108,"l":68},{"s":"Tibialis Ant. C","x":100,"m":88,"u":115,"l":60}
]
},
"concat":[
{"title":"Extenseurs de la hanche","width":471,"height":148,"data":{"name":"p1"},
 "encoding":{"x":{"field":"x","type":"quantitative","scale":{"domain":[0,100],"nice":false},"axis":{"values":[0,10,20,30,40,50,60,70,80,90,100],"tickCount":20,"title":"Pourcentage du cycle de marche (%)"}}},
 "layer":[
  {"transform":[{"fold":["u","l"],"as":["k","v"]}],"mark":{"type":"line","interpolate":"monotone","strokeWidth":1,"strokeDash":[6,4],"opacity":0.7,"clip":true},
   "encoding":{"y":{"field":"v","type":"quantitative","scale":{"domain":[-20,600],"nice":false,"zero":false},"axis":{"values":[0,200,400,600],"tickCount":20,"title":"Pourcentage de la moyenne EMG (%)"}},
    "color":{"field":"s","type":"nominal","scale":{"domain":["Gluteus H","Gluteus C","Semi tendinous H","Semi tendinous C"],"range":["#ff0000","#0000ff","#ff00ff","#00ffff"]},"legend":{"orient":"top-left","title":null}},"detail":{"field":"k"}}},
  {"mark":{"type":"line","interpolate":"monotone","strokeWidth":3.5,"clip":true},
   "encoding":{"y":{"field":"m","type":"quantitative","scale":{"domain":[-20,600],"nice":false,"zero":false}},
    "color":{"field":"s","type":"nominal","scale":{"domain":["Gluteus H","Gluteus C","Semi tendinous H","Semi tendinous C"],"range":["#ff0000","#0000ff","#ff00ff","#00ffff"]},"legend":{"orient":"top-left","title":null}}}},
  {"data":{"values":[{"x":0,"x2":100,"y":100}]},"mark":{"type":"rule","color":"#999999","strokeWidth":1.5},"encoding":{"x2":{"field":"x2"},"y":{"field":"y","type":"quantitative","scale":{"domain":[-20,600],"nice":false,"zero":false}}}},
  {"data":{"values":[{"x":58.4}]},"mark":{"type":"rule","color":"#ff0000","strokeWidth":1,"opacity":0.8},"encoding":{}},
  {"data":{"values":[{"x":63}]},"mark":{"type":"rule","color":"#0000ff","strokeWidth":1,"opacity":0.8},"encoding":{}}
 ]},
{"title":"Fléchisseurs de la hanche","width":471,"height":148,"data":{"name":"p2"},
 "encoding":{"x":{"field":"x","type":"quantitative","scale":{"domain":[0,100],"nice":false},"axis":{"values":[0,10,20,30,40,50,60,70,80,90,100],"tickCount":20,"title":"Pourcentage du cycle de marche (%)"}}},
 "layer":[
  {"transform":[{"fold":["u","l"],"as":["k","v"]}],"mark":{"type":"line","interpolate":"monotone","strokeWidth":1,"strokeDash":[6,4],"opacity":0.7,"clip":true},
   "encoding":{"y":{"field":"v","type":"quantitative","scale":{"domain":[-100,400],"nice":false,"zero":false},"axis":{"values":[-100,0,100,200,300,400],"tickCount":20,"title":"Pourcentage de la moyenne EMG (%)"}},
    "color":{"field":"s","type":"nominal","scale":{"domain":["R. Femoris H","R. Femoris C"],"range":["#ff0000","#0000ff"]},"legend":{"orient":"top-right","title":null}},"detail":{"field":"k"}}},
  {"mark":{"type":"line","interpolate":"monotone","strokeWidth":3.5,"clip":true},
   "encoding":{"y":{"field":"m","type":"quantitative","scale":{"domain":[-100,400],"nice":false,"zero":false}},
    "color":{"field":"s","type":"nominal","scale":{"domain":["R. Femoris H","R. Femoris C"],"range":["#ff0000","#0000ff"]},"legend":{"orient":"top-right","title":null}}}},
  {"data":{"values":[{"x":0,"x2":100,"y":100}]},"mark":{"type":"rule","color":"#999999","strokeWidth":1.5},"encoding":{"x2":{"field":"x2"},"y":{"field":"y","type":"quantitative","scale":{"domain":[-100,400],"nice":false,"zero":false}}}},
  {"data":{"values":[{"x":58.4}]},"mark":{"type":"rule","color":"#ff0000","strokeWidth":1,"opacity":0.8},"encoding":{}},
  {"data":{"values":[{"x":63}]},"mark":{"type":"rule","color":"#0000ff","strokeWidth":1,"opacity":0.8},"encoding":{}}
 ]},
{"title":"Extenseurs du genou","width":471,"height":148,"data":{"name":"p3"},
 "encoding":{"x":{"field":"x","type":"quantitative","scale":{"domain":[0,100],"nice":false},"axis":{"values":[0,10,20,30,40,50,60,70,80,90,100],"tickCount":20,"title":"Pourcentage du cycle de marche (%)"}}},
 "layer":[
  {"transform":[{"fold":["u","l"],"as":["k","v"]}],"mark":{"type":"line","interpolate":"monotone","strokeWidth":1,"strokeDash":[6,4],"opacity":0.7,"clip":true},
   "encoding":{"y":{"field":"v","type":"quantitative","scale":{"domain":[-20,600],"nice":false,"zero":false},"axis":{"values":[0,200,400,600],"tickCount":20,"title":"Pourcentage de la moyenne EMG (%)"}},
    "color":{"field":"s","type":"nominal","scale":{"domain":["Vastus L. H","Vastus L. C","Rectus Femoris H","Rectus Femoris C"],"range":["#ff0000","#0000ff","#ff00ff","#00ffff"]},"legend":{"orient":"top-right","title":null}},"detail":{"field":"k"}}},
  {"mark":{"type":"line","interpolate":"monotone","strokeWidth":3.5,"clip":true},
   "encoding":{"y":{"field":"m","type":"quantitative","scale":{"domain":[-20,600],"nice":false,"zero":false}},
    "color":{"field":"s","type":"nominal","scale":{"domain":["Vastus L. H","Vastus L. C","Rectus Femoris H","Rectus Femoris C"],"range":["#ff0000","#0000ff","#ff00ff","#00ffff"]},"legend":{"orient":"top-right","title":null}}}},
  {"data":{"values":[{"x":58.4}]},"mark":{"type":"rule","color":"#ff0000","strokeWidth":1,"opacity":0.8},"encoding":{}},
  {"data":{"values":[{"x":63}]},"mark":{"type":"rule","color":"#0000ff","strokeWidth":1,"opacity":0.8},"encoding":{}}
 ]},
{"title":"Fléchisseurs du genou","width":471,"height":148,"data":{"name":"p4"},
 "encoding":{"x":{"field":"x","type":"quantitative","scale":{"domain":[0,100],"nice":false},"axis":{"values":[0,10,20,30,40,50,60,70,80,90,100],"tickCount":20,"title":"Pourcentage du cycle de marche (%)"}}},
 "layer":[
  {"transform":[{"fold":["u","l"],"as":["k","v"]}],"mark":{"type":"line","interpolate":"monotone","strokeWidth":1,"strokeDash":[6,4],"opacity":0.7,"clip":true},
   "encoding":{"y":{"field":"v","type":"quantitative","scale":{"domain":[-20,800],"nice":false,"zero":false},"axis":{"values":[0,200,400,600,800],"tickCount":20,"title":"Pourcentage de la moyenne EMG (%)"}},
    "color":{"field":"s","type":"nominal","scale":{"domain":["M. Gastrocnemius H","M. Gastrocnemius C","Semi Tendinous H","Semi Tendinous C","Biceps Femoris H","Biceps Femoris C"],"range":["#ff0000","#0000ff","#ff00ff","#00ffff","#00ff00","#ffff00"]},"legend":{"orient":"top-left","title":null}},"detail":{"field":"k"}}},
  {"mark":{"type":"line","interpolate":"monotone","strokeWidth":3.5,"clip":true},
   "encoding":{"y":{"field":"m","type":"quantitative","scale":{"domain":[-20,800],"nice":false,"zero":false}},
    "color":{"field":"s","type":"nominal","scale":{"domain":["M. Gastrocnemius H","M. Gastrocnemius C","Semi Tendinous H","Semi Tendinous C","Biceps Femoris H","Biceps Femoris C"],"range":["#ff0000","#0000ff","#ff00ff","#00ffff","#00ff00","#ffff00"]},"legend":{"orient":"top-left","title":null}}}},
  {"data":{"values":[{"x":58.4}]},"mark":{"type":"rule","color":"#ff0000","strokeWidth":1,"opacity":0.8},"encoding":{}},
  {"data":{"values":[{"x":63}]},"mark":{"type":"rule","color":"#0000ff","strokeWidth":1,"opacity":0.8},"encoding":{}}
 ]},
{"title":"Extenseurs de la cheville","width":471,"height":148,"data":{"name":"p5"},
 "encoding":{"x":{"field":"x","type":"quantitative","scale":{"domain":[0,100],"nice":false},"axis":{"values":[0,10,20,30,40,50,60,70,80,90,100],"tickCount":20,"title":"Pourcentage du cycle de marche (%)"}}},
 "layer":[
  {"transform":[{"fold":["u","l"],"as":["k","v"]}],"mark":{"type":"line","interpolate":"monotone","strokeWidth":1,"strokeDash":[6,4],"opacity":0.7,"clip":true},
   "encoding":{"y":{"field":"v","type":"quantitative","scale":{"domain":[-25,800],"nice":false,"zero":false},"axis":{"values":[0,200,400,600,800],"tickCount":20,"title":"Pourcentage de la moyenne EMG (%)"}},
    "color":{"field":"s","type":"nominal","scale":{"domain":["M. Gastrocnemius H","M. Gastrocnemius C","Soleus H","Soleus C"],"range":["#ff0000","#0000ff","#ff00ff","#00ffff"]},"legend":{"orient":"top-right","title":null}},"detail":{"field":"k"}}},
  {"mark":{"type":"line","interpolate":"monotone","strokeWidth":3.5,"clip":true},
   "encoding":{"y":{"field":"m","type":"quantitative","scale":{"domain":[-25,800],"nice":false,"zero":false}},
    "color":{"field":"s","type":"nominal","scale":{"domain":["M. Gastrocnemius H","M. Gastrocnemius C","Soleus H","Soleus C"],"range":["#ff0000","#0000ff","#ff00ff","#00ffff"]},"legend":{"orient":"top-right","title":null}}}},
  {"data":{"values":[{"x":58.4}]},"mark":{"type":"rule","color":"#ff0000","strokeWidth":1,"opacity":0.8},"encoding":{}},
  {"data":{"values":[{"x":63}]},"mark":{"type":"rule","color":"#0000ff","strokeWidth":1,"opacity":0.8},"encoding":{}}
 ]},
{"title":"Fléchisseurs de la cheville","width":471,"height":148,"data":{"name":"p6"},
 "encoding":{"x":{"field":"x","type":"quantitative","scale":{"domain":[0,100],"nice":false},"axis":{"values":[0,10,20,30,40,50,60,70,80,90,100],"tickCount":20,"title":"Pourcentage du cycle de marche (%)"}}},
 "layer":[
  {"transform":[{"fold":["u","l"],"as":["k","v"]}],"mark":{"type":"line","interpolate":"monotone","strokeWidth":1,"strokeDash":[6,4],"opacity":0.7,"clip":true},
   "encoding":{"y":{"field":"v","type":"quantitative","scale":{"domain":[-12,400],"nice":false,"zero":false},"axis":{"values":[0,100,200,300,400],"tickCount":20,"title":"Pourcentage de la moyenne EMG (%)"}},
    "color":{"field":"s","type":"nominal","scale":{"domain":["Tibialis Ant. H","Tibialis Ant. C"],"range":["#ff0000","#0000ff"]},"legend":{"orient":"top-right","title":null}},"detail":{"field":"k"}}},
  {"mark":{"type":"line","interpolate":"monotone","strokeWidth":3.5,"clip":true},
   "encoding":{"y":{"field":"m","type":"quantitative","scale":{"domain":[-12,400],"nice":false,"zero":false}},
    "color":{"field":"s","type":"nominal","scale":{"domain":["Tibialis Ant. H","Tibialis Ant. C"],"range":["#ff0000","#0000ff"]},"legend":{"orient":"top-right","title":null}}}},
  {"data":{"values":[{"x":58.4}]},"mark":{"type":"rule","color":"#ff0000","strokeWidth":1,"opacity":0.8},"encoding":{}},
  {"data":{"values":[{"x":63}]},"mark":{"type":"rule","color":"#0000ff","strokeWidth":1,"opacity":0.8},"encoding":{}}
 ]}
],
"config":{
 "font":"Liberation Sans",
 "view":{"stroke":"#404040","strokeWidth":1},
 "axis":{"grid":false,"domain":false,"ticks":true,"tickSize":-3,"tickColor":"#404040","labelFontSize":11,"labelColor":"#595959","labelFlush":false,"labelOverlap":false,"titleFontSize":11,"titleFontWeight":"normal","titleColor":"#262626"},
 "axisX":{"labelPadding":9,"titleY":29,"titleBaseline":"middle"},
 "axisY":{"labelPadding":10,"titleX":-43,"titleY":74,"titleBaseline":"middle","titleAlign":"center","titleAngle":-90},
 "title":{"fontSize":14,"fontWeight":"bold","color":"#000000","anchor":"middle","frame":"group","offset":7,"dy":19},
 "legend":{"padding":3,"offset":8,"strokeColor":"#333333","fillColor":"#ffffff","symbolType":"M-3.7,0H3.7","symbolSize":81,"symbolStrokeWidth":4,"symbolOffset":10,"labelOffset":15,"labelFontSize":9.8,"labelColor":"#262626","rowPadding":1,"clipHeight":13,"symbolOpacity":1,"symbolDash":[1,0]}
}
}
